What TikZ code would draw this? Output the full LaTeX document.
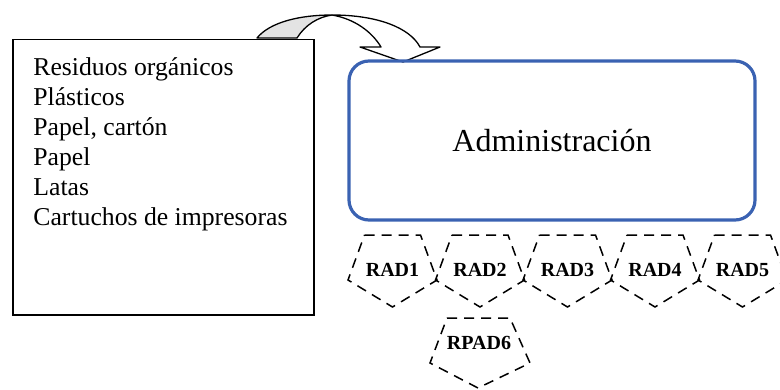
\documentclass[tikz,border=0pt]{standalone}
\usepackage{fontspec}
\setmainfont{LiberationSerif-Regular.ttf}[BoldFont=LiberationSerif-Bold.ttf]
\usetikzlibrary{calc}
\definecolor{admblue}{RGB}{58,98,178}
\begin{document}
\begin{tikzpicture}[x=0.5pt,y=-0.5pt,
  listbox/.style={draw=black, line width=0.75pt, minimum width=150.5pt, minimum height=137.5pt, anchor=north west, inner sep=0pt},
  admin/.style={draw=admblue, line width=1.6pt, rounded corners=10pt, minimum width=203pt, minimum height=79.5pt, inner sep=0pt},
  listtext/.style={anchor=north west, align=left, inner sep=0pt, font=\rmfamily\fontsize{12.85}{15}\selectfont},
  radlabel/.style={font=\rmfamily\fontsize{10}{12}\selectfont\bfseries, inner sep=0pt},
  pent/.style={draw=black, line width=0.75pt, dash pattern=on 5pt off 3.5pt},
  arrowline/.style={draw=black, line width=0.65pt, line join=round}]
\useasboundingbox (0,0) rectangle (780,390);
\clip (0,0) rectangle (780,390);

% curved block arrow (back and front parts)
\coordinate (ob) at (257,38);
\coordinate (ib) at (297,38);
\coordinate (top) at (332,15);
\coordinate (oe) at (420,47);
\coordinate (ie) at (381,47);
\coordinate (wr) at (440,47);
\coordinate (wl) at (360,47);
\coordinate (tip) at (403,62);
\filldraw[arrowline, fill=gray!22] (ob) .. controls (270,22) and (300,15) .. (top)
   .. controls (318,17) and (305,25) .. (ib) -- cycle;
\filldraw[arrowline, fill=white] (top) .. controls (378,15) and (410,28) .. (oe)
   -- (wr) -- (tip) -- (wl) -- (ie) .. controls (372,32) and (355,19) .. (top) -- cycle;

% left list box
\node[listbox] (src) at (12,39) {};
\node[listtext] (items) at (33,57) {Residuos orgánicos\\Plásticos\\Papel, cartón\\Papel\\Latas\\Cartuchos de impresoras};

% administration
\node[admin] (adm) at (552,140.5) {\rmfamily\fontsize{16}{19}\selectfont Administración};

% RAD pentagons
\foreach \i/\cx in {1/392.5,2/480,3/567.5,4/655,5/742.5} {
  \node[radlabel] (rad\i) at (\cx,270) {RAD\i};
  \draw[pent] ($(rad\i)+(-28,-35)$) -- ($(rad\i)+(28,-35)$) -- ($(rad\i)+(44.5,10)$)
     -- ($(rad\i)+(0,37)$) -- ($(rad\i)+(-44.5,10)$) -- cycle;
}

% RPAD6
\node[radlabel] (rpad6) at (479,343) {RPAD6};
\draw[pent] ($(rpad6)+(-32,-25)$) -- ($(rpad6)+(31,-25)$) -- ($(rpad6)+(51,20)$)
   -- ($(rpad6)+(-1,45)$) -- ($(rpad6)+(-49,20)$) -- cycle;
\end{tikzpicture}
\end{document}
